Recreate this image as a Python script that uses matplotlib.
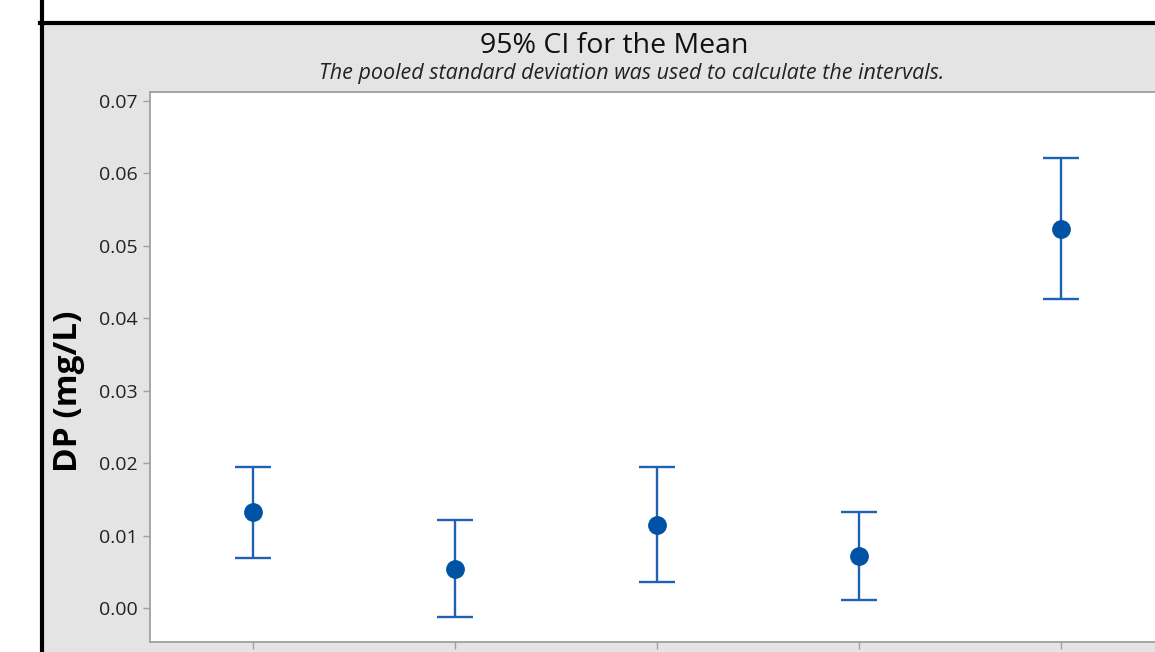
import matplotlib
matplotlib.use("Agg")
import matplotlib.pyplot as plt
from matplotlib.lines import Line2D

# Data
groups = [1, 2, 3, 4, 5]
means = [0.01325, 0.00538, 0.01146, 0.00718, 0.05233]
upper = [0.01947, 0.01215, 0.01947, 0.01325, 0.06213]
lower = [0.00690, -0.00124, 0.00359, 0.00110, 0.04266]
yticks = [0.00, 0.01, 0.02, 0.03, 0.04, 0.05, 0.06, 0.07]
ytick_labels = ["0.00", "0.01", "0.02", "0.03", "0.04", "0.05", "0.06", "0.07"]

FONT = "Open Sans"
W, H = 1155, 652
fig = plt.figure(figsize=(W / 100, H / 100), dpi=100)
fig.patch.set_facecolor("white")

# gray panel region
bg = fig.add_axes([42 / W, 0, 1, 1 - 23 / H])
bg.set_facecolor("#e4e4e4")
bg.set_xticks([]); bg.set_yticks([])
for s in bg.spines.values():
    s.set_visible(False)
bg.set_zorder(0)

fig.lines.append(Line2D([41.5 / W, 41.5 / W], [0, 1], transform=fig.transFigure,
                        color="black", lw=3, zorder=10))
fig.lines.append(Line2D([40 / W, 1], [1 - 23 / H, 1 - 23 / H], transform=fig.transFigure,
                        color="black", lw=3, zorder=10))

left, right, top, bottom = 150, 1162, 92, 642
ax = fig.add_axes([left / W, 1 - bottom / H, (right - left) / W, (bottom - top) / H])
ax.set_zorder(5)
ax.set_facecolor("white")

lo_err = [m - l for m, l in zip(means, lower)]
hi_err = [u - m for m, u in zip(means, upper)]
ax.errorbar(groups, means, yerr=[lo_err, hi_err], fmt="none", ecolor="#1f62b4",
            elinewidth=1.7, capsize=12.8, capthick=1.7, zorder=2)
ax.plot(groups, means, "o", color="#0052a4", markersize=12.5, zorder=3)

ax.set_xlim(0.49, 5.5)
ax.set_ylim(-0.00470, 0.07124)
ax.set_xticks(groups)
ax.set_xticklabels([""] * len(groups))
ax.set_yticks(yticks)
ax.set_yticklabels(ytick_labels, fontfamily=FONT, fontsize=14, color="#222222")
for s in ax.spines.values():
    s.set_color("#a0a0a0")
    s.set_linewidth(1.3)
ax.tick_params(axis="both", direction="out", length=5, width=1, color="#a0a0a0", pad=4)

ax.set_ylabel("DP (mg/L)", fontfamily=FONT, fontweight="bold", fontsize=24)
ax.yaxis.set_label_coords(-0.064, 0.455)

fig.text(614 / W, 1 - 46 / H, "95% CI for the Mean", ha="center", va="center",
         fontfamily=FONT, fontsize=20.5, color="#111111")
fig.text(632 / W, 1 - 73 / H, "The pooled standard deviation was used to calculate the intervals.",
         ha="center", va="center", fontfamily=FONT, fontstyle="italic", fontsize=15.5,
         color="#222222")

fig.savefig("out.png", dpi=100)
